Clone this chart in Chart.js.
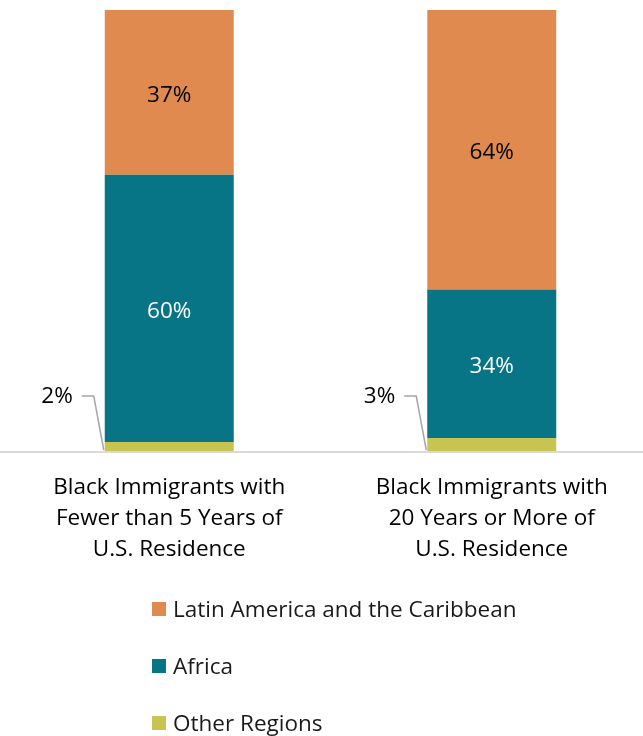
<!DOCTYPE html>
<html>
<head>
<meta charset="utf-8">
<script src="https://cdn.jsdelivr.net/npm/chart.js@4.4.1/dist/chart.umd.min.js"></script>
<style>
  html, body { margin: 0; padding: 0; background: #fff; overflow: hidden; width: 643px; height: 736px; }
  #wrap { position: absolute; left: 0; top: 0; width: 661px; height: 596px; }
  #legend { position: absolute; left: 152px; top: 580px; font-family: "Open Sans", sans-serif; font-size: 22.5px; color: #1a1a1a; }
  .item { display: flex; align-items: center; height: 57px; }
  .swatch { width: 14px; height: 14px; margin-right: 7px; }
</style>
</head>
<body>
<div id="wrap"><canvas id="chart"></canvas></div>
<div id="legend"></div>
<script>
const categories = [
  ["Black Immigrants with", "Fewer than 5 Years of", "U.S. Residence"],
  ["Black Immigrants with", "20 Years or More of", "U.S. Residence"]
];
const latinAmerica = [37, 64];
const africa = [60, 34];
const otherRegions = [2, 3];

const COLORS = {
  latin: "#e08a50",
  africa: "#077585",
  other: "#c8c452",
  axis: "#d9d9d9",
  leader: "#a6a6a6"
};
const FONT = '"Open Sans", sans-serif';
const FONT_SIZE = 22.5;

// each bar is shown as a share of its own total (100% stacked)
const totals = categories.map((_, i) => latinAmerica[i] + africa[i] + otherRegions[i]);
const share = (arr) => arr.map((v, i) => v / totals[i] * 100);

const datasets = [
  { label: "Other Regions", data: share(otherRegions), raw: otherRegions, backgroundColor: COLORS.other, leader: true },
  { label: "Africa", data: share(africa), raw: africa, backgroundColor: COLORS.africa, labelColor: "#ffffff" },
  { label: "Latin America and the Caribbean", data: share(latinAmerica), raw: latinAmerica, backgroundColor: COLORS.latin, labelColor: "#000000" }
];

const baseline = {
  id: "baseline",
  beforeDatasetsDraw(chart) {
    const { ctx, chartArea } = chart;
    ctx.save();
    ctx.fillStyle = COLORS.axis;
    ctx.fillRect(0, chartArea.bottom, chart.width, 2);
    ctx.restore();
  }
};

const segmentLabels = {
  id: "segmentLabels",
  afterDatasetsDraw(chart) {
    const { ctx } = chart;
    ctx.save();
    ctx.font = `${FONT_SIZE}px ${FONT}`;
    ctx.textBaseline = "middle";
    chart.data.datasets.forEach((ds, di) => {
      chart.getDatasetMeta(di).data.forEach((bar, i) => {
        const text = `${ds.raw[i]}%`;
        if (ds.leader) {
          const left = bar.x - bar.width / 2;
          const ly = bar.base - 55;
          ctx.strokeStyle = COLORS.leader;
          ctx.lineWidth = 1.5;
          ctx.beginPath();
          ctx.moveTo(left - 23, ly);
          ctx.lineTo(left - 11, ly);
          ctx.lineTo(left - 1, bar.base - 1);
          ctx.stroke();
          ctx.fillStyle = "#000000";
          ctx.textAlign = "right";
          ctx.fillText(text, left - 32, ly + 1);
        } else {
          ctx.fillStyle = ds.labelColor;
          ctx.textAlign = "center";
          ctx.fillText(text, bar.x, (bar.y + bar.base) / 2 + 3);
        }
      });
    });
    ctx.restore();
  }
};

new Chart(document.getElementById("chart"), {
  type: "bar",
  data: { labels: categories, datasets },
  plugins: [baseline, segmentLabels],
  options: {
    responsive: true,
    maintainAspectRatio: false,
    animation: false,
    datasets: { bar: { categoryPercentage: 1, barPercentage: 0.4 } },
    layout: { padding: { left: 8, right: 8, top: 10, bottom: 10 } },
    plugins: { legend: { display: false }, tooltip: { enabled: false } },
    scales: {
      x: {
        stacked: true,
        grid: { display: false, drawTicks: false },
        border: { display: false },
        ticks: {
          color: "#000000",
          padding: 21,
          font: { family: FONT, size: FONT_SIZE, lineHeight: "31px" }
        }
      },
      y: {
        stacked: true,
        display: false,
        min: 0,
        max: 100
      }
    }
  }
});

const legend = document.getElementById("legend");
[...datasets].reverse().forEach((ds) => {
  const item = document.createElement("div");
  item.className = "item";
  item.innerHTML = `<span class="swatch" style="background:${ds.backgroundColor}"></span><span>${ds.label}</span>`;
  legend.appendChild(item);
});
</script>
</body>
</html>
